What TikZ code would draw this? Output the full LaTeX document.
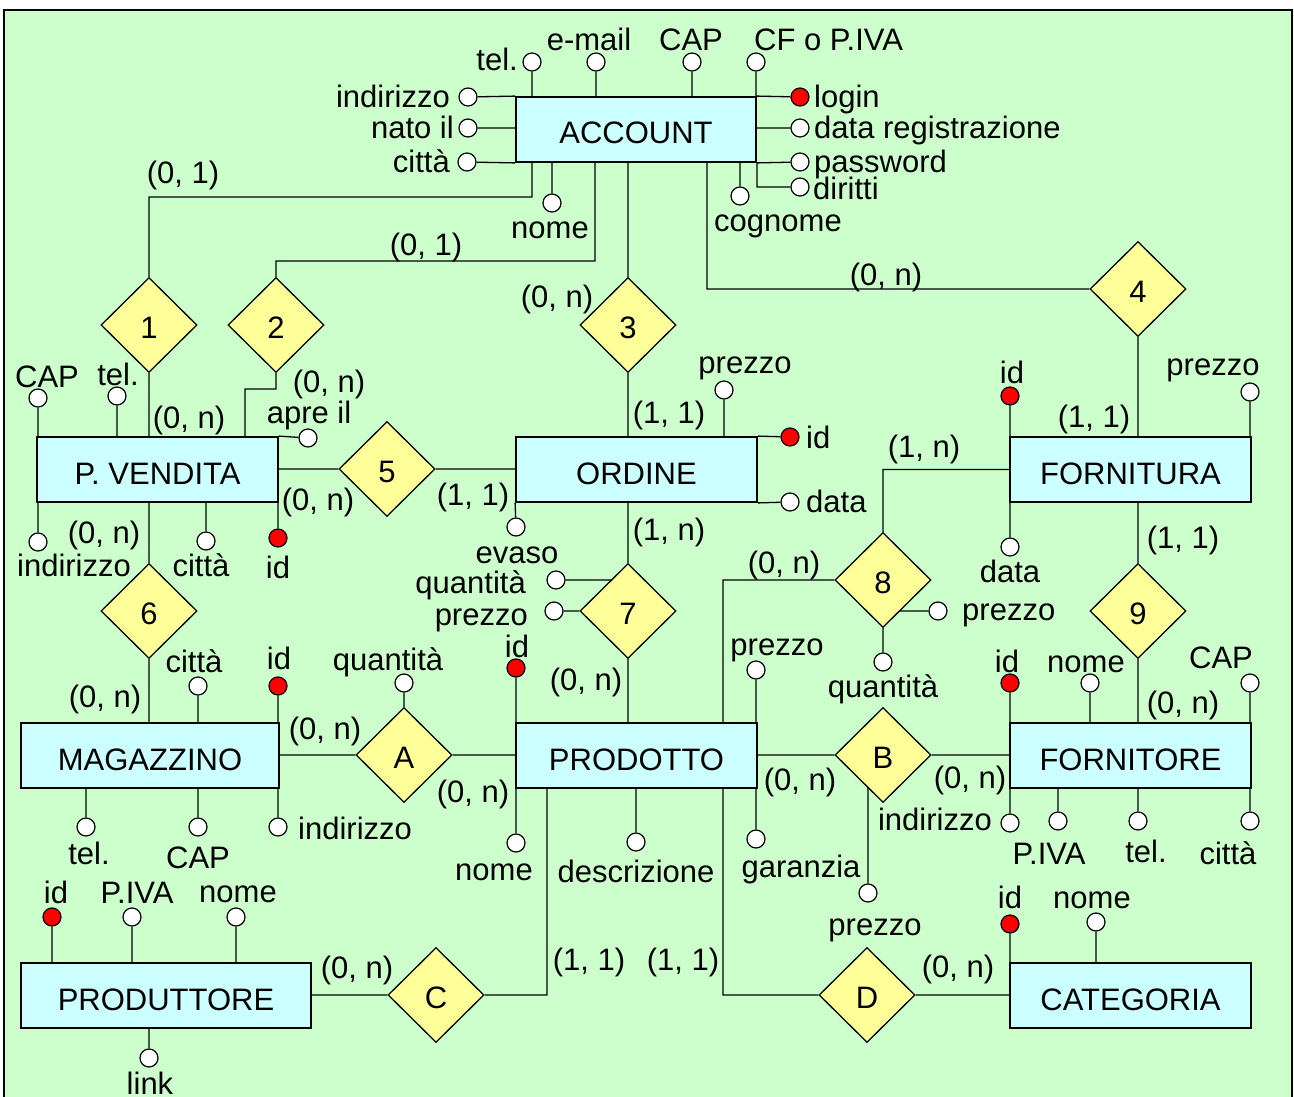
\documentclass[tikz,border=0pt]{standalone}
\usepackage{fontspec}
\setmainfont{Liberation Sans}
\usetikzlibrary{shapes.geometric}
\definecolor{bggreen}{HTML}{CCFFCC}
\definecolor{entfill}{HTML}{CCFFFF}
\definecolor{relfill}{HTML}{FFFF99}
\definecolor{keyred}{HTML}{FF0000}
\pgfdeclarelayer{bg}
\pgfdeclarelayer{wires}
\pgfsetlayers{bg,wires,main}
\begin{document}
\begin{tikzpicture}[x=1pt,y=-1pt,
  font=\fontsize{31}{33}\selectfont,
  entity/.style={draw,line width=1.8pt,fill=entfill,minimum height=65pt,inner sep=0,text height=29pt,text depth=0pt},
  rel/.style={diamond,draw,line width=1.3pt,fill=relfill,minimum width=96pt,minimum height=95pt,inner sep=0,text height=27pt,text depth=0pt},
  attr/.style={circle,draw,line width=1.2pt,fill=white,minimum size=18pt,inner sep=0},
  key/.style={attr,fill=keyred},
  lbl/.style={inner sep=0,anchor=base},
  lble/.style={inner sep=0,anchor=base east},
  lblw/.style={inner sep=0,anchor=base west},
  wire/.style={line width=1.3pt},
]
\path[use as bounding box] (0,0) rectangle (1294,1097);
\begin{pgfonlayer}{bg}
\fill[white] (0,0) rectangle (1294,1097);
\draw[fill=bggreen,line width=1.2pt] (4,10) rectangle (1292,1120);
\end{pgfonlayer}

% entities
\node[entity,minimum width=240pt] (account) at (636,129.5) {ACCOUNT};
\node[entity,minimum width=241pt] (pv) at (157.5,469.5) {P. VENDITA};
\node[entity,minimum width=241pt] (ordine) at (636.5,469.5) {ORDINE};
\node[entity,minimum width=241pt] (fornitura) at (1130.5,469.5) {FORNITURA};
\node[entity,minimum width=258pt] (mag) at (150,755.5) {MAGAZZINO};
\node[entity,minimum width=241pt] (prod) at (636.5,755.5) {PRODOTTO};
\node[entity,minimum width=241pt] (fornitore) at (1130.5,755.5) {FORNITORE};
\node[entity,minimum width=290pt] (produttore) at (166,995.5) {PRODUTTORE};
\node[entity,minimum width=241pt] (categoria) at (1130.5,995.5) {CATEGORIA};

% relationships
\node[rel] (r1) at (149,325) {1};
\node[rel] (r2) at (276,325) {2};
\node[rel] (r3) at (628,325) {3};
\node[rel] (r4) at (1138,289) {4};
\node[rel] (r5) at (387,469) {5};
\node[rel] (r6) at (149,611) {6};
\node[rel] (r7) at (628,611) {7};
\node[rel] (r8) at (883,580) {8};
\node[rel] (r9) at (1138,611) {9};
\node[rel] (rA) at (404,755) {A};
\node[rel] (rB) at (883,755) {B};
\node[rel] (rC) at (436,995) {C};
\node[rel] (rD) at (867,995) {D};

% bend points
\coordinate (k1) at (532,197);
\coordinate (k2) at (595,261);
\coordinate (k4) at (707,200);
\coordinate (k5) at (245,389);
\coordinate (k8) at (723,600);
\coordinate (kC) at (547,900);

% attributes: ACCOUNT
\node[attr] (a-tel) at (532,62) {};
\node[attr] (a-mail) at (596,62) {};
\node[attr] (a-cap) at (692,62) {};
\node[attr] (a-cf) at (756,62) {};
\node[attr] (a-ind) at (468,97) {};
\node[attr] (a-nato) at (468,128) {};
\node[attr] (a-citta) at (467,162) {};
\node[key] (a-login) at (800,97) {};
\node[attr] (a-data) at (800,128) {};
\node[attr] (a-pwd) at (800,162) {};
\node[attr] (a-dir) at (800,187) {};
\node[attr] (a-nome) at (552,203) {};
\node[attr] (a-cogn) at (740,196) {};
% P. VENDITA
\node[attr] (pv-cap) at (38,398) {};
\node[attr] (pv-tel) at (117,396) {};
\node[attr] (pv-apre) at (308,438) {};
\node[attr] (pv-ind) at (38,542) {};
\node[attr] (pv-citta) at (206,541) {};
\node[key] (pv-id) at (278,538) {};
% MAGAZZINO
\node[attr] (m-citta) at (198,686) {};
\node[key] (m-id) at (278,686) {};
\node[attr] (m-tel) at (86,827) {};
\node[attr] (m-cap) at (198,827) {};
\node[attr] (m-ind) at (278,827) {};
\node[attr] (rA-q) at (404,683) {};
% ORDINE
\node[attr] (o-prezzo) at (724,390) {};
\node[key] (o-id) at (790,437) {};
\node[attr] (o-data) at (790,502) {};
\node[attr] (o-evaso) at (516,527) {};
\node[attr] (r7-q) at (556,580) {};
\node[attr] (r7-p) at (554,611) {};
% PRODOTTO
\node[key] (p-id) at (516,668) {};
\node[attr] (p-prezzo) at (756,670) {};
\node[attr] (p-nome) at (516,843) {};
\node[attr] (p-descr) at (636,842) {};
\node[attr] (p-gar) at (756,839) {};
\node[attr] (r8-p) at (938,611) {};
\node[attr] (r8-q) at (883,662) {};
\node[attr] (rB-p) at (868,893) {};
% FORNITURA
\node[key] (f-id) at (1010,396) {};
\node[attr] (f-prezzo) at (1250,392) {};
\node[attr] (f-data) at (1010,547) {};
% FORNITORE
\node[key] (fo-id) at (1010,683) {};
\node[attr] (fo-nome) at (1090,683) {};
\node[attr] (fo-cap) at (1250,683) {};
\node[attr] (fo-ind) at (1010,823) {};
\node[attr] (fo-piva) at (1058,821) {};
\node[attr] (fo-tel) at (1138,821) {};
\node[attr] (fo-citta) at (1250,821) {};
% CATEGORIA
\node[key] (c-id) at (1010,924) {};
\node[attr] (c-nome) at (1096,922) {};
% PRODUTTORE
\node[key] (pr-id) at (52,917) {};
\node[attr] (pr-piva) at (132,917) {};
\node[attr] (pr-nome) at (236,917) {};
\node[attr] (pr-link) at (149,1058) {};

% wires
\begin{pgfonlayer}{wires}
\draw[wire]
 (a-tel) -- (a-tel |- account.north)
 (a-mail) -- (a-mail |- account.north)
 (a-cap) -- (a-cap |- account.north)
 (a-cf) -- (a-cf |- account.north)
 (a-ind) -- (account.north west)
 (a-nato) -- (a-nato -| account.west)
 (a-citta) -- (account.south west)
 (a-login) -- (account.north east)
 (a-data) -- (a-data -| account.east)
 (a-pwd) -- (account.south east)
 (a-dir) -| (account.south east)
 (a-nome) -- (a-nome |- account.south)
 (a-cogn) -- (a-cogn |- account.south)
 (account.south -| k1) -- (k1) -| (r1.north)
 (account.south -| k2) -- (k2) -| (r2.north)
 (account.south -| r3.north) -- (r3.north)
 (account.south -| k4) |- (r4.west)
 (r4.south) -- (r4.south |- fornitura.north)
 (r1.south) -- (r1.south |- pv.north)
 (r2.south) |- (k5) -- (k5 |- pv.north)
 (r5.west) -- (r5.west -| pv.east)
 (r5.east) -- (r5.east -| ordine.west)
 (r3.south) -- (r3.south |- ordine.north)
 (pv-cap) -- (pv-cap |- pv.north)
 (pv-tel) -- (pv-tel |- pv.north)
 (pv-apre) -- (pv.north east)
 (pv-ind) -- (pv-ind |- pv.south)
 (pv-citta) -- (pv-citta |- pv.south)
 (pv-id) -- (pv-id |- pv.south)
 (r6.north) -- (r6.north |- pv.south)
 (r6.south) -- (r6.south |- mag.north)
 (m-citta) -- (m-citta |- mag.north)
 (m-id) -- (m-id |- mag.north)
 (m-tel) -- (m-tel |- mag.south)
 (m-cap) -- (m-cap |- mag.south)
 (m-ind) -- (m-ind |- mag.south)
 (rA.west) -- (rA.west -| mag.east)
 (rA.east) -- (rA.east -| prod.west)
 (rA.north) -- (rA-q)
 (o-prezzo) -- (o-prezzo |- ordine.north)
 (o-id) -- (ordine.north east)
 (o-data) -- (ordine.south east)
 (o-evaso) -- (ordine.south west)
 (r7.north) -- (r7.north |- ordine.south)
 (r7.south) -- (r7.south |- prod.north)
 (r7-q) -- (r7-q -| r7.center)
 (r7-p) -- (r7.west)
 (p-id) -- (p-id |- prod.north)
 (p-prezzo) -- (p-prezzo |- prod.north)
 (p-nome) -- (p-nome |- prod.south)
 (p-descr) -- (p-descr |- prod.south)
 (p-gar) -- (p-gar |- prod.south)
 (prod.north -| k8) |- (r8.west)
 (r8.north) |- (fornitura.west)
 (r8-p) -- (r8-p -| r8.center)
 (r8.south) -- (r8-q)
 (rB.west) -- (rB.west -| prod.east)
 (rB.east) -- (rB.east -| fornitore.west)
 (rB-p) -- (rB-p |- rB.center)
 (prod.south -| kC) |- (rC.east)
 (prod.south -| k8) |- (rD.west)
 (rC.west) -- (rC.west -| produttore.east)
 (rD.east) -- (rD.east -| categoria.west)
 (f-id) -- (f-id |- fornitura.north)
 (f-prezzo) -- (f-prezzo |- fornitura.north)
 (f-data) -- (f-data |- fornitura.south)
 (r9.north) -- (r9.north |- fornitura.south)
 (r9.south) -- (r9.south |- fornitore.north)
 (fo-id) -- (fo-id |- fornitore.north)
 (fo-nome) -- (fo-nome |- fornitore.north)
 (fo-cap) -- (fo-cap |- fornitore.north)
 (fo-ind) -- (fo-ind |- fornitore.south)
 (fo-piva) -- (fo-piva |- fornitore.south)
 (fo-tel) -- (fo-tel |- fornitore.south)
 (fo-citta) -- (fo-citta |- fornitore.south)
 (c-id) -- (c-id |- categoria.north)
 (c-nome) -- (c-nome |- categoria.north)
 (pr-id) -- (pr-id |- produttore.north)
 (pr-piva) -- (pr-piva |- produttore.north)
 (pr-nome) -- (pr-nome |- produttore.north)
 (pr-link) -- (pr-link |- produttore.south);
\end{pgfonlayer}

% labels: ACCOUNT
\node[lble] (t-a-tel) at (518,71) {tel.};
\node[lbl] (t-a-mail) at (589,51) {e-mail};
\node[lbl] (t-a-cap) at (691,51) {CAP};
\node[lblw] (t-a-cf) at (754,51) {CF o P.IVA};
\node[lble] (t-a-ind) at (450,108) {indirizzo};
\node[lble] (t-a-nato) at (454,139) {nato il};
\node[lble] (t-a-citta) at (450,172) {città};
\node[lblw] (t-a-login) at (814,108) {login};
\node[lblw] (t-a-data) at (814,139) {data registrazione};
\node[lblw] (t-a-pwd) at (814,172) {password};
\node[lblw] (t-a-dir) at (813,200) {diritti};
\node[lbl] (t-a-nome) at (550,238) {nome};
\node[lbl] (t-a-cogn) at (778,232) {cognome};
% cardinalities
\node[lbl] (c1) at (183,183) {(0, 1)};
\node[lbl] (c2) at (426,255) {(0, 1)};
\node[lbl] (c3) at (557,307) {(0, n)};
\node[lbl] (c4) at (886,285) {(0, n)};
\node[lbl] (c5) at (1094,427) {(1, 1)};
\node[lbl] (c6) at (189,428) {(0, n)};
\node[lbl] (c7) at (329,392) {(0, n)};
\node[lbl] (c8) at (318,510) {(0, n)};
\node[lbl] (c9) at (473,505) {(1, 1)};
\node[lbl] (c10) at (669,423) {(1, 1)};
\node[lbl] (c11) at (104,543) {(0, n)};
\node[lbl] (c12) at (105,707) {(0, n)};
\node[lbl] (c13) at (325,739) {(0, n)};
\node[lbl] (c14) at (473,802) {(0, n)};
\node[lbl] (c15) at (669,540) {(1, n)};
\node[lbl] (c16) at (586,690) {(0, n)};
\node[lbl] (c17) at (784,573) {(0, n)};
\node[lbl] (c18) at (924,457) {(1, n)};
\node[lbl] (c19) at (1183,548) {(1, 1)};
\node[lbl] (c20) at (1183,713) {(0, n)};
\node[lbl] (c21) at (800,790) {(0, n)};
\node[lbl] (c22) at (970,788) {(0, n)};
\node[lbl] (c23) at (589,970) {(1, 1)};
\node[lbl] (c24) at (683,970) {(1, 1)};
\node[lbl] (c25) at (357,978) {(0, n)};
\node[lbl] (c26) at (958,977) {(0, n)};
% P. VENDITA
\node[lbl] (t-pv-cap) at (47,387) {CAP};
\node[lbl] (t-pv-tel) at (118,385) {tel.};
\node[lbl] (t-pv-apre) at (309,423) {apre il};
\node[lbl] (t-pv-ind) at (74,576) {indirizzo};
\node[lbl] (t-pv-citta) at (201,576) {città};
\node[lbl] (t-pv-id) at (278,578) {id};
% MAGAZZINO
\node[lbl] (t-m-citta) at (194,672) {città};
\node[lbl] (t-m-id) at (279,669) {id};
\node[lbl] (t-m-tel) at (89,864) {tel.};
\node[lbl] (t-m-cap) at (198,868) {CAP};
\node[lblw] (t-m-ind) at (298,839) {indirizzo};
\node[lbl] (t-rA-q) at (388,670) {quantità};
% ORDINE
\node[lbl] (t-o-prezzo) at (745,373) {prezzo};
\node[lblw] (t-o-id) at (806,448) {id};
\node[lblw] (t-o-data) at (806,512) {data};
\node[lbl] (t-o-evaso) at (517,563) {evaso};
\node[lble] (t-r7-q) at (526,593) {quantità};
\node[lble] (t-r7-p) at (528,625) {prezzo};
% PRODOTTO
\node[lbl] (t-p-id) at (517,657) {id};
\node[lbl] (t-p-prezzo) at (777,655) {prezzo};
\node[lbl] (t-p-nome) at (494,880) {nome};
\node[lbl] (t-p-descr) at (636,882) {descrizione};
\node[lbl] (t-p-gar) at (801,877) {garanzia};
\node[lblw] (t-r8-p) at (962,620) {prezzo};
\node[lbl] (t-r8-q) at (883,697) {quantità};
\node[lbl] (t-rB-p) at (875,935) {prezzo};
% FORNITURA
\node[lbl] (t-f-id) at (1012,383) {id};
\node[lbl] (t-f-prezzo) at (1213,375) {prezzo};
\node[lbl] (t-f-data) at (1010,582) {data};
% FORNITORE
\node[lbl] (t-fo-id) at (1007,672) {id};
\node[lbl] (t-fo-nome) at (1086,672) {nome};
\node[lbl] (t-fo-cap) at (1221,668) {CAP};
\node[lble] (t-fo-ind) at (992,830) {indirizzo};
\node[lbl] (t-fo-piva) at (1049,864) {P.IVA};
\node[lbl] (t-fo-tel) at (1146,862) {tel.};
\node[lbl] (t-fo-citta) at (1228,864) {città};
% CATEGORIA
\node[lbl] (t-c-id) at (1010,908) {id};
\node[lbl] (t-c-nome) at (1092,908) {nome};
% PRODUTTORE
\node[lbl] (t-pr-id) at (56,903) {id};
\node[lbl] (t-pr-piva) at (137,903) {P.IVA};
\node[lbl] (t-pr-nome) at (238,902) {nome};
\node[lbl] (t-pr-link) at (150,1094) {link};
\end{tikzpicture}
\end{document}
